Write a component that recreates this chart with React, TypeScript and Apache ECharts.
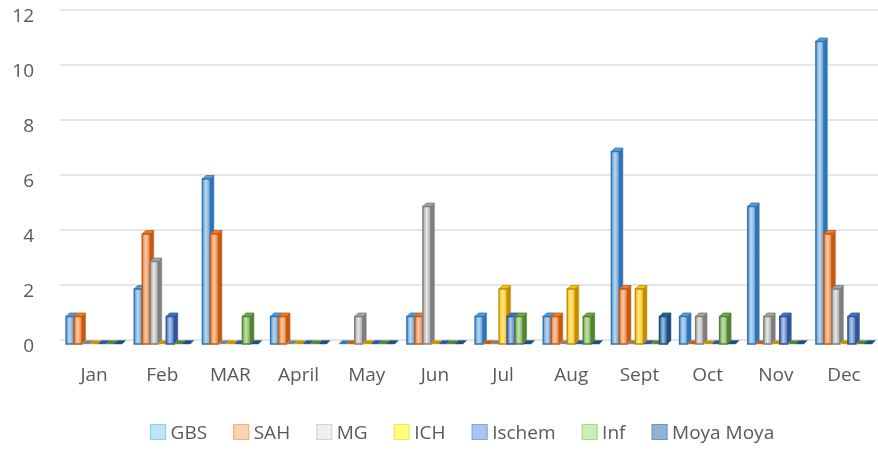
import React, { useEffect, useRef } from "react";
import * as echarts from "echarts";

const categories = ["Jan", "Feb", "MAR", "April", "May", "Jun", "Jul", "Aug", "Sept", "Oct", "Nov", "Dec"];
const seriesNames = ["GBS", "SAH", "MG", "ICH", "Ischem", "Inf", "Moya Moya"];
const gbs = [1, 2, 6, 1, 0, 1, 1, 1, 7, 1, 5, 11];
const sah = [1, 4, 4, 1, 0, 1, 0, 1, 2, 0, 0, 4];
const mg = [0, 3, 0, 0, 1, 5, 0, 0, 0, 1, 1, 2];
const ich = [0, 0, 0, 0, 0, 0, 2, 2, 2, 0, 0, 0];
const ischem = [0, 1, 0, 0, 0, 0, 1, 0, 0, 0, 1, 1];
const inf = [0, 0, 1, 0, 0, 0, 1, 1, 0, 1, 0, 0];
const moya = [0, 0, 0, 0, 0, 0, 0, 0, 1, 0, 0, 0];
const yTicks = [0, 2, 4, 6, 8, 10, 12];

const seriesData = [gbs, sah, mg, ich, ischem, inf, moya];
const mainColors = ["#5B9BD5", "#ED7D31", "#A5A5A5", "#FFC000", "#4472C4", "#70AD47", "#255E91"];
const darkColors = ["#2E75B6", "#C55A11", "#7F7F7F", "#BF9000", "#2F5597", "#548235", "#1F4E79"];
const lightColors = ["#BDD7EE", "#F8CBAD", "#E7E6E6", "#FFE699", "#B4C7E7", "#C5E0B4", "#9DC3E6"];
const legendFill = ["#BDE6FA", "#FCD5AE", "#EFEFEF", "#FFFF80", "#A8C6F2", "#CDEDB5", "#8FB3D6"];
const legendBorder = ["#8DD0F0", "#F8B27A", "#D4D4D4", "#FFE066", "#7FA6E0", "#A8D88A", "#6F97C0"];

const FONT = "'Open Sans', 'Noto Sans', sans-serif";

export default function App() {
  const ref = useRef<HTMLDivElement>(null);
  useEffect(() => {
    if (!ref.current) return;
    const chart = echarts.init(ref.current, null, { renderer: "svg" });
    const series = seriesNames.map((name, si) => ({
      name,
      type: "custom",
      itemStyle: { color: mainColors[si] },
      data: seriesData[si].map((v, ci) => [ci, v]),
      encode: { x: 0, y: 1 },
      renderItem: (params: any, api: any) => {
        const ci = api.value(0);
        const v = api.value(1);
        const band = api.size([1, 0])[0];
        const slot = band * 0.1175;
        const base = api.coord([ci, 0]);
        const top = api.coord([ci, v]);
        const shift = 4;
        const d = 3.5;
        const x0 = base[0] - 3.5 * slot + si * slot;
        const w = slot;
        const yb = base[1] + shift;
        const yt = top[1] + shift;
        if (v === 0) {
          return {
            type: "polygon",
            shape: { points: [[x0, yb], [x0 + d, yb - d], [x0 + w + d, yb - d], [x0 + w, yb]] },
            style: { fill: darkColors[si], stroke: mainColors[si], lineWidth: 0.5 },
          };
        }
        return {
          type: "group",
          children: [
            {
              type: "polygon",
              shape: { points: [[x0 + w, yt], [x0 + w + d, yt - d], [x0 + w + d, yb - d], [x0 + w, yb]] },
              style: { fill: darkColors[si], stroke: darkColors[si], lineWidth: 0.5 },
            },
            {
              type: "polygon",
              shape: { points: [[x0, yt], [x0 + d, yt - d], [x0 + w + d, yt - d], [x0 + w, yt]] },
              style: { fill: mainColors[si], stroke: darkColors[si], lineWidth: 0.8 },
            },
            {
              type: "rect",
              shape: { x: x0, y: yt, width: w, height: yb - yt },
              style: {
                fill: new echarts.graphic.LinearGradient(0, 0, 1, 0, [
                  { offset: 0, color: mainColors[si] },
                  { offset: 0.45, color: lightColors[si] },
                  { offset: 1, color: mainColors[si] },
                ]),
                stroke: darkColors[si],
                lineWidth: 1.4,
              },
            },
          ],
        };
      },
    }));
    chart.setOption({
      animation: false,
      grid: { left: 60, width: 820, top: 10, bottom: 111, containLabel: false },
      xAxis: {
        type: "category",
        data: categories,
        axisLine: { show: false },
        axisTick: { show: false },
        axisLabel: { color: "#595959", fontSize: 19, fontFamily: FONT, margin: 24 },
      },
      yAxis: {
        type: "value",
        min: yTicks[0],
        max: yTicks[yTicks.length - 1],
        interval: 2,
        axisLine: { show: false },
        axisTick: { show: false },
        axisLabel: {
          color: "#595959",
          fontSize: 19,
          fontFamily: FONT,
          margin: 26,
          verticalAlign: "top",
          lineHeight: 10,
        },
        splitLine: { lineStyle: { color: "#E6E6E6", width: 2 } },
      },
      legend: {
        top: 420,
        left: 150,
        padding: 0,
        icon: "rect",
        itemWidth: 15,
        itemHeight: 15,
        itemGap: 26,
        textStyle: { color: "#595959", fontSize: 19, lineHeight: 24, fontFamily: FONT, padding: [0, 0, 0, 0] },
        data: seriesNames.map((name, si) => ({
          name,
          itemStyle: { color: legendFill[si], borderColor: legendBorder[si], borderWidth: 1.2 },
        })),
      },
      series,
    });
    return () => chart.dispose();
  }, []);
  return <div ref={ref} style={{ position: "fixed", left: 0, top: 0, width: 878, height: 451 }} />;
}
